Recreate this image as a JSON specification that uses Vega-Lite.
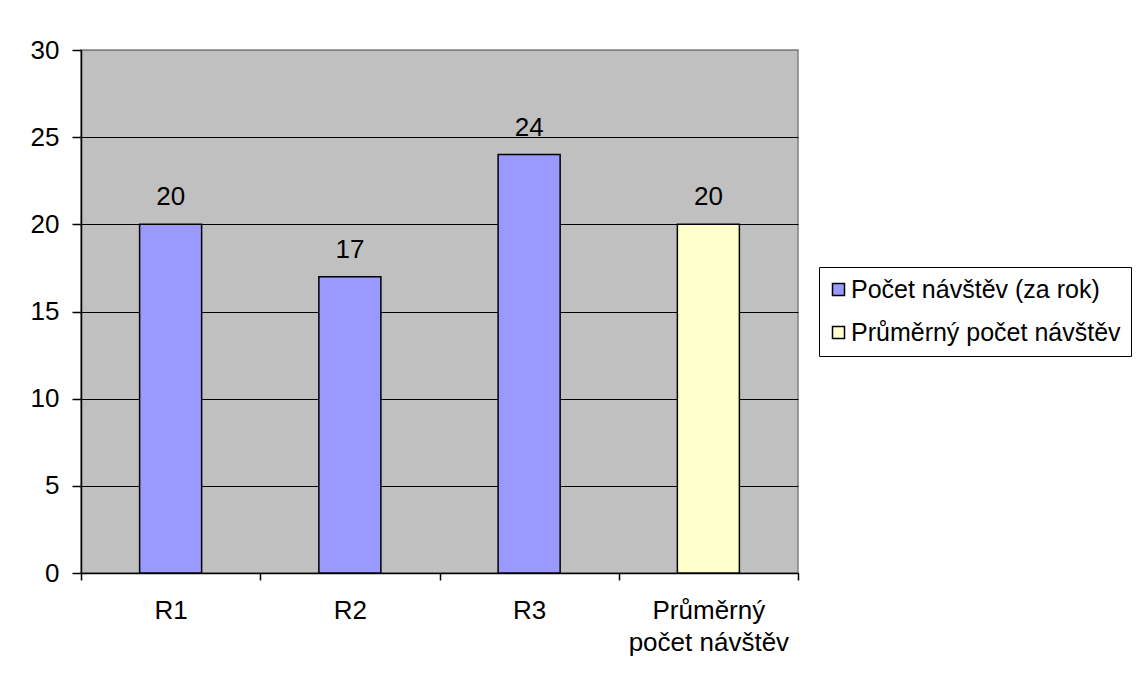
{
  "$schema": "https://vega.github.io/schema/vega-lite/v6.json",
  "width": 717,
  "height": 523,
  "autosize": {"type": "none"},
  "padding": {"left": 81, "top": 50, "right": 342, "bottom": 109},
  "background": "white",
  "config": {
    "font": "Liberation Sans",
    "view": {"fill": "#C0C0C0", "stroke": "#808080", "strokeWidth": 1.5},
    "axis": {"labelFont": "Liberation Sans", "labelFontSize": 26, "labelColor": "black", "domainColor": "black", "tickColor": "black", "domainWidth": 1.5, "tickWidth": 1.5}
  },
  "data": {
    "values": [
      {"kategorie": "R1", "hodnota": 20, "rada": "Počet návštěv (za rok)"},
      {"kategorie": "R2", "hodnota": 17, "rada": "Počet návštěv (za rok)"},
      {"kategorie": "R3", "hodnota": 24, "rada": "Počet návštěv (za rok)"},
      {"kategorie": "Průměrný počet návštěv", "hodnota": 20, "rada": "Průměrný počet návštěv"}
    ]
  },
  "encoding": {
    "x": {
      "field": "kategorie", "type": "nominal", "sort": null, "title": null,
      "scale": {"paddingInner": 0, "paddingOuter": 0},
      "axis": {"labelAngle": 0, "tickBand": "extent", "grid": false, "tickSize": 7, "labelPadding": 17, "labelLineHeight": 32,
               "labelExpr": "datum.value == 'Průměrný počet návštěv' ? ['Průměrný', 'počet návštěv'] : datum.label"}
    },
    "y": {
      "field": "hodnota", "type": "quantitative", "title": null,
      "scale": {"domain": [0, 30], "nice": false},
      "axis": {"values": [0, 5, 10, 15, 20, 25, 30], "grid": true, "tickSize": 9, "labelPadding": 13,
               "gridColor": {"condition": {"test": "datum.value == 30", "value": "#808080"}, "value": "black"},
               "gridWidth": 1.2, "gridOpacity": 1}
    }
  },
  "layer": [
    {
      "mark": {"type": "bar", "stroke": "black", "strokeWidth": 1.5, "width": {"band": 0.346}},
      "encoding": {
        "color": {
          "field": "rada", "type": "nominal",
          "scale": {"domain": ["Počet návštěv (za rok)", "Průměrný počet návštěv"], "range": ["#9999FF", "#FFFFCC"]},
          "legend": {
            "title": null, "orient": "none", "legendX": 738, "legendY": 217,
            "symbolType": "square", "symbolSize": 144, "symbolStrokeColor": "black", "symbolStrokeWidth": 1.5,
            "symbolOffset": -3,
            "labelFont": "Liberation Sans", "labelFontSize": 25, "labelColor": "black", "labelOffset": 0, "labelLimit": 500,
            "strokeColor": "black", "padding": 10, "rowPadding": 17, "fillColor": "white"
          }
        }
      }
    },
    {
      "mark": {"type": "text", "baseline": "alphabetic", "dy": -19, "fontSize": 26, "font": "Liberation Sans", "color": "black"},
      "encoding": {"text": {"field": "hodnota", "type": "quantitative"}}
    }
  ]
}
